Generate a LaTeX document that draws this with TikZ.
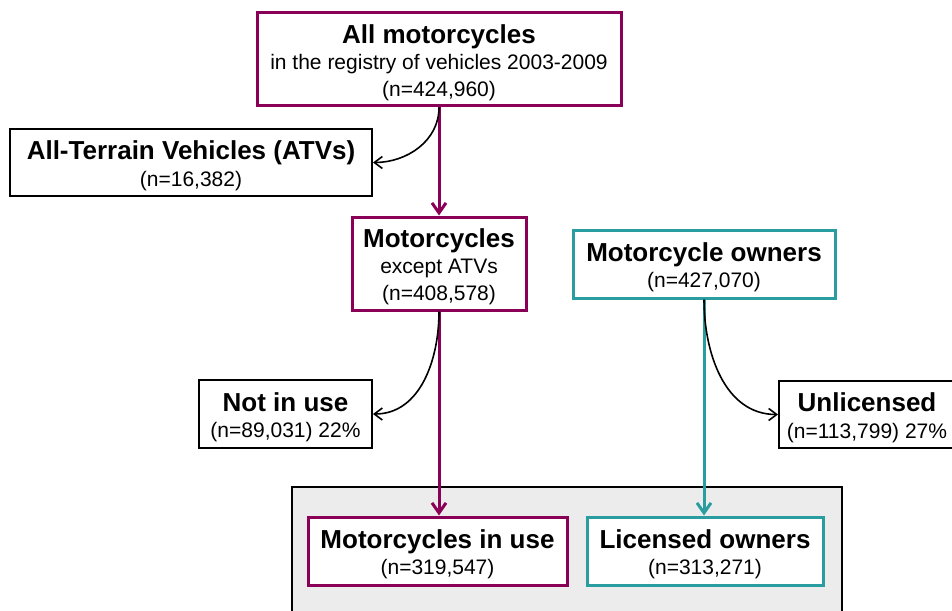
\documentclass[tikz,border=0pt]{standalone}
\usepackage{fontspec}
\setmainfont{Liberation Sans}
\usetikzlibrary{arrows.meta}
\definecolor{mcpurple}{RGB}{139,0,87}
\definecolor{ownteal}{RGB}{42,157,160}
\newcommand{\boxtitle}[1]{{\fontsize{13}{13}\selectfont\bfseries\rule{0pt}{12.5pt}#1}}

\begin{document}
\begin{tikzpicture}[x=0.5pt,y=-0.5pt,
    box/.style={draw,line width=1pt,fill=white,align=center,inner sep=0pt,
      font=\fontsize{10.5}{13.2}\selectfont},
    vehbox/.style={box,draw=mcpurple,line width=1.5pt},
    ownbox/.style={box,draw=ownteal,line width=1.5pt},
    vehflow/.style={mcpurple,line width=1.5pt,-{Straight Barb[length=5pt,width=7pt]}},
    ownflow/.style={ownteal,line width=1.5pt,-{Straight Barb[length=5pt,width=7pt]}},
    exclude/.style={black,line width=0.8pt,-{Straight Barb[length=4pt,width=6pt]}}]
  \useasboundingbox (0,0) rectangle (952,610);

  % study population
  \draw[fill=gray!15,line width=0.8pt] (292,487) rectangle (842,640);

  % motorcycles
  \node[vehbox,minimum width=182pt,minimum height=46.5pt] (all) at (439,59.5)
    {\boxtitle{All motorcycles}\\in the registry of vehicles 2003-2009\\(n=424,960)};
  \node[box,minimum width=181pt,minimum height=33.5pt] (atv) at (191,162.5)
    {\boxtitle{All-Terrain Vehicles (ATVs)}\\(n=16,382)};
  \node[vehbox,minimum width=87pt,minimum height=46.5pt] (mc) at (439,263.5)
    {\boxtitle{Motorcycles}\\except ATVs\\(n=408,578)};
  \node[box,minimum width=86.5pt,minimum height=34pt] (notuse) at (285.5,414)
    {\boxtitle{Not in use}\\(n=89,031) 22\%};
  \node[vehbox,minimum width=129.5pt,minimum height=34pt] (inuse) at (437.5,551)
    {\boxtitle{Motorcycles in use}\\(n=319,547)};

  % owners
  \node[ownbox,minimum width=131pt,minimum height=34pt] (own) at (704,264)
    {\boxtitle{Motorcycle owners}\\(n=427,070)};
  \node[box,minimum width=88pt,minimum height=33.5pt] (unlic) at (867,414.5)
    {\boxtitle{Unlicensed}\\(n=113,799) 27\%};
  \node[ownbox,minimum width=118pt,minimum height=34pt] (lic) at (705,551)
    {\boxtitle{Licensed owners}\\(n=313,271)};

  % flows
  \draw[vehflow] (all.south) -- (mc.north);
  \draw[exclude] (all.south) to[out=-90,in=0] (atv.east);
  \draw[vehflow] (mc.south) -- (mc.south |- inuse.north);
  \draw[exclude] (mc.south) to[out=-90,in=0] (notuse.east);
  \draw[ownflow] (own.south) -- (own.south |- lic.north);
  \draw[exclude] (own.south) to[out=-90,in=180] (unlic.west);
\end{tikzpicture}
\end{document}
